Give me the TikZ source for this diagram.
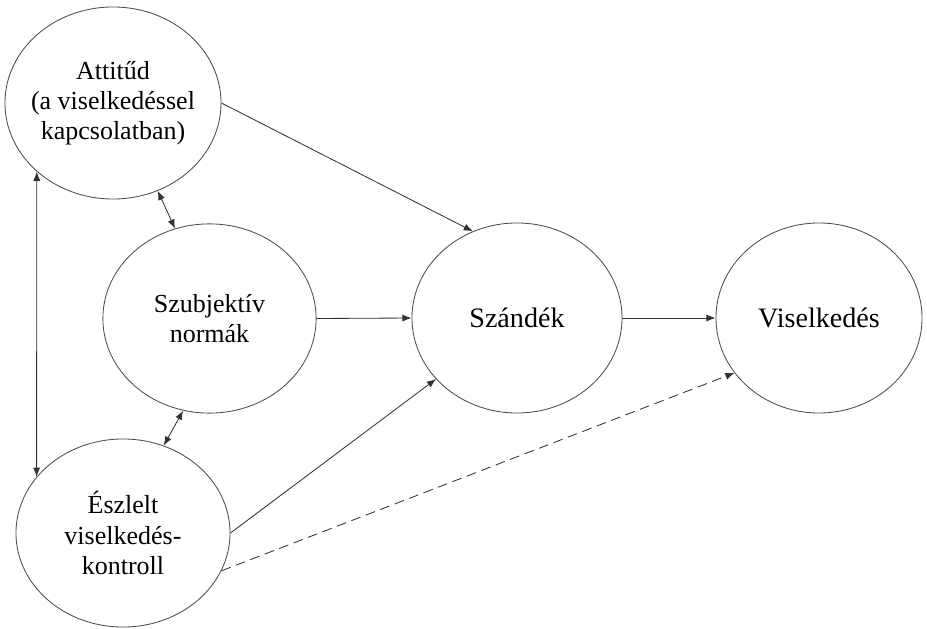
\documentclass[tikz,border=0pt]{standalone}
\usepackage{fontspec}
\setmainfont{Liberation Serif}
\usetikzlibrary{shapes.geometric,arrows.meta}

\begin{document}
\begin{tikzpicture}[x=0.025cm,y=-0.025cm,
    elli/.style={ellipse,draw=black!70,line width=0.6pt,inner xsep=-6pt,inner ysep=0pt,
      align=center,font=\fontsize{18.5}{21.5}\selectfont},
    big/.style={font=\fontsize{20}{23}\selectfont},
    conn/.style={draw=black!80,line width=0.6pt,-{Latex[length=6.5pt,width=5pt]}},
    both/.style={conn,{Latex[length=6.5pt,width=5pt]}-{Latex[length=6.5pt,width=5pt]}}]
      \useasboundingbox (0,0) rectangle (927,629);

      % the five ellipses
      \node[elli,minimum width=5.4cm,minimum height=4.8cm] (att) at (113,103)
        {Attitűd\\(a viselkedéssel\\kapcsolatban)};
      \node[elli,minimum width=5.33cm,minimum height=4.73cm] (szn) at (209.5,318.5)
        {Szubjektív\\normák};
      \node[elli,minimum width=5.35cm,minimum height=4.7cm] (esz) at (123,533)
        {Észlelt\\viselkedés-\\kontroll};
      \node[elli,big,minimum width=5.25cm,minimum height=4.75cm] (sza) at (517,318)
        {Szándék};
      \node[elli,big,minimum width=5.15cm,minimum height=4.75cm] (vis) at (819,318)
        {Viselkedés};

      % connectors
      \draw[conn] (att.east) -- (sza.117);
      \draw[conn] (szn.east) -- (sza.west);
      \draw[conn] (esz.east) -- (sza.217);
      \draw[conn] (sza.east) -- (vis.west);
      \draw[conn,dash pattern=on 7pt off 4pt] (esz.-21) -- (vis.213);

      \draw[both] (att.222) -- (esz.147);
      \draw[both] (att.-63) -- (szn.111);
      \draw[both] (szn.254) -- (esz.65);
    \end{tikzpicture}
\end{document}
